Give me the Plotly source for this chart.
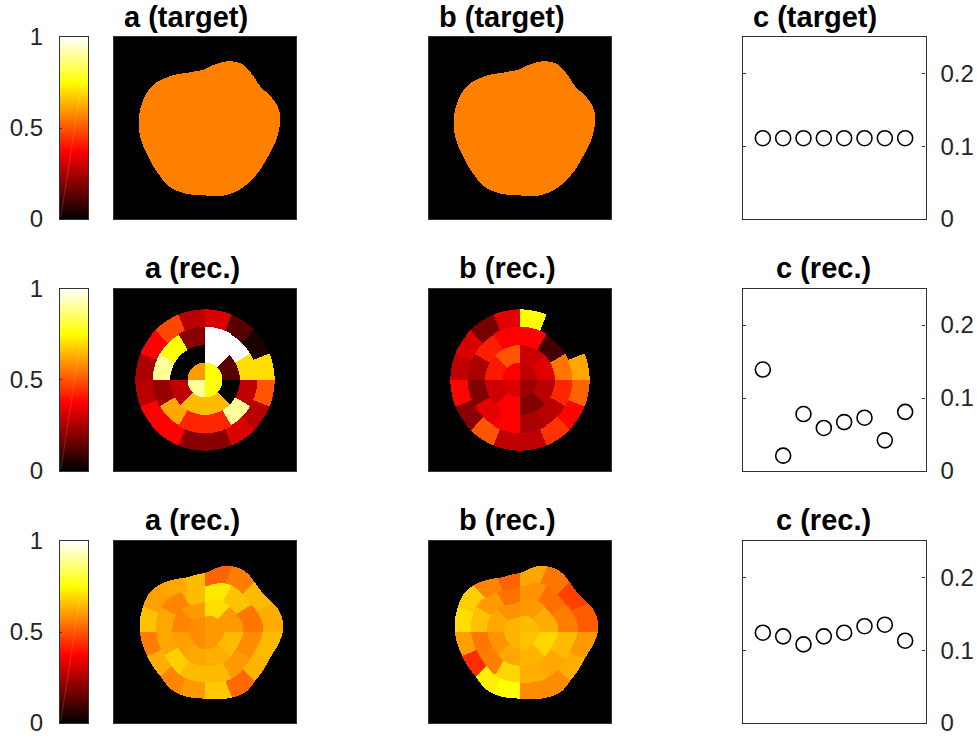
import numpy as np
import plotly.graph_objects as go

W, H = 977, 740
# ---- data ----
scatter_x = [1, 2, 3, 4, 5, 6, 7, 8]
c_target = [0.111, 0.111, 0.111, 0.111, 0.111, 0.111, 0.111, 0.111]
c_rec_circle = [0.139, 0.021, 0.078, 0.059, 0.067, 0.073, 0.042, 0.081]
c_rec_blob = [0.124, 0.119, 0.108, 0.119, 0.124, 0.133, 0.135, 0.113]
target_value = 0.5625

target_angles = [7, 17, 27, 37, 49, 59, 70, 80, 92, 108, 127, 141, 155, 172, 188, 204, 224, 238, 252, 269, 285, 299, 312, 334, 356]
target_radii = [230, 230, 218, 206, 215, 225, 216, 196, 173, 174, 191, 205, 205, 202, 197, 191, 196, 208, 207, 202, 212, 214, 210, 207, 221]
blob_angles = [6, 16, 23, 33, 45, 54, 64, 75, 88, 109, 127, 143, 159, 179, 198, 215, 226, 239, 253, 270, 291, 304, 316, 339, 359.5]
blob_radii = [238, 234, 223, 208, 211, 220, 218, 207, 178, 172, 191, 206, 202, 197, 189, 188, 189, 202, 203, 200, 213, 221, 210, 210, 235]

# rings inner -> outer, sectors clockwise from 12 o'clock
a_circle_r1 = [0.75, 0.75, 0.90, 0.60]
a_circle_r2 = [1.0, 0.13, 0.0, 0.65, 0.65, 0.28, 0.0, 0.0]
a_circle_r3 = [1.0, 1.0, 0.70, 0.28, 0.90, 0.43, 0.43, 0.62, 0.22, 0.90, 0.75, 0.20]
a_circle_r4 = [0.32, 0.13, 0.04, 0.70, 0.50, 0.27, 0.32, 0.20, 0.20, 0.375, 0.375, 0.27, 0.25, 0.375, 0.48, 0.27]

b_circle_r1 = [0.28, 0.23, 0.32, 0.375]
b_circle_r2 = [0.30, 0.33, 0.27, 0.19, 0.375, 0.30, 0.41, 0.50]
b_circle_r3 = [0.375, 0.10, 0.55, 0.43, 0.27, 0.25, 0.375, 0.34, 0.19, 0.25, 0.42, 0.375]
b_circle_r4 = [0.75, 0.0, 0.0, 0.62, 0.52, 0.38, 0.45, 0.28, 0.28, 0.50, 0.20, 0.38, 0.28, 0.32, 0.17, 0.33]

a_blob_r1 = [0.60, 0.60, 0.58, 0.58]
a_blob_r2 = [0.70, 0.60, 0.65, 0.63, 0.62, 0.61, 0.57, 0.60]
a_blob_r3 = [0.72, 0.66, 0.55, 0.58, 0.60, 0.65, 0.65, 0.68, 0.62, 0.62, 0.57, 0.65]
a_blob_r4 = [0.52, 0.56, 0.65, 0.63, 0.65, 0.64, 0.53, 0.67, 0.60, 0.57, 0.63, 0.56, 0.66, 0.61, 0.62, 0.65]

b_blob_r1 = [0.65, 0.66, 0.64, 0.64]
b_blob_r2 = [0.60, 0.63, 0.69, 0.64, 0.62, 0.59, 0.62, 0.59]
b_blob_r3 = [0.59, 0.54, 0.56, 0.65, 0.62, 0.63, 0.69, 0.56, 0.55, 0.66, 0.60, 0.54]
b_blob_r4 = [0.62, 0.55, 0.47, 0.51, 0.60, 0.63, 0.58, 0.58, 0.75, 0.73, 0.44, 0.61, 0.70, 0.68, 0.57, 0.52]

bar_ticks = [0, 0.5, 1]
bar_tick_labels = ["0", "0.5", "1"]
c_ticks = [0, 0.1, 0.2]
c_tick_labels = ["0", "0.1", "0.2"]
titles = [["a (target)", "b (target)", "c (target)"],
          ["a (rec.)", "b (rec.)", "c (rec.)"],
          ["a (rec.)", "b (rec.)", "c (rec.)"]]

# ---- layout in pixels ----
rows = [(37, 219), (288.5, 471), (541, 723)]
cols = [(114, 296), (429, 611), (742.5, 925.5)]
bar_x = (60, 88)
title_y = [16.8, 268, 520]
title_x = [[185.5, 502, 815], [192, 507, 823], [192, 507, 823]]
HOT = [[0, "#000000"], [0.375, "#ff0000"], [0.75, "#ffff00"], [1, "#ffffff"]]
AX = "#333333"
FONT = "Liberation Sans, Arial, sans-serif"
TICK_SIZE = 24
TITLE_SIZE = 29
N = 182
HALF = 1.3

g = np.linspace(-HALF, HALF, N)
gx, gy = np.meshgrid(g, g)
rad = np.hypot(gx, gy)
clock = np.mod(90 - np.degrees(np.arctan2(gy, gx)), 360)


def smooth_profile(angles, radii, sigma=3.5):
    grid = np.arange(720) / 2.0
    raw = np.interp(grid, angles, np.array(radii, float) / 210.0, period=360)
    d = np.minimum(grid, 360 - grid)
    kernel = np.exp(-0.5 * (d / sigma) ** 2)
    kernel /= kernel.sum()
    sm = np.real(np.fft.ifft(np.fft.fft(raw) * np.fft.fft(kernel)))
    theta = np.mod(90 - clock, 360)
    return np.interp(theta, grid, sm, period=360)


def rings_image(rings, bounds):
    """bounds: outer edge of each ring, as arrays over the grid"""
    z = np.zeros_like(rad)
    inner = np.zeros_like(rad)
    for vals, outer in zip(rings, bounds):
        mask = (rad >= inner) & (rad < outer)
        idx = np.floor(clock / (360 / len(vals))).astype(int) % len(vals)
        z[mask] = np.array(vals)[idx][mask]
        inner = outer
    return z


target_prof = smooth_profile(target_angles, target_radii)
blob_prof = smooth_profile(blob_angles, blob_radii)
blob_soft = smooth_profile(blob_angles, blob_radii, sigma=9.0)
circle_bounds = [np.full_like(rad, f) for f in (0.25, 0.5, 0.75, 1.0)]
blob_bounds = [0.25 * blob_soft, 0.5 * blob_soft, 0.75 * blob_soft, blob_prof]
images = [
    [np.where(rad <= target_prof, target_value, 0.0)] * 2,
    [rings_image([a_circle_r1, a_circle_r2, a_circle_r3, a_circle_r4], circle_bounds),
     rings_image([b_circle_r1, b_circle_r2, b_circle_r3, b_circle_r4], circle_bounds)],
    [rings_image([a_blob_r1, a_blob_r2, a_blob_r3, a_blob_r4], blob_bounds),
     rings_image([b_blob_r1, b_blob_r2, b_blob_r3, b_blob_r4], blob_bounds)],
]
scatter_rows = [c_target, c_rec_circle, c_rec_blob]


def dom_x(p):
    return [p[0] / W, p[1] / W]


def dom_y(p):
    return [1 - p[1] / H, 1 - p[0] / H]


fig = go.Figure()
layout = {}
n = 0


def new_axes(xp, yp, xopts, yopts):
    global n
    n += 1
    sfx = "" if n == 1 else str(n)
    layout["xaxis" + sfx] = dict(domain=dom_x(xp), anchor="y" + sfx, showgrid=False, zeroline=False,
                                 showline=True, mirror=True, linecolor=AX, linewidth=1.2, automargin=False,
                                 showticklabels=False, ticks="", **xopts)
    layout["yaxis" + sfx] = dict(domain=dom_y(yp), anchor="x" + sfx, showgrid=False, zeroline=False,
                                 showline=True, linecolor=AX, linewidth=1.2, automargin=False, **yopts)
    return "x" + sfx, "y" + sfx


tick_font = dict(family=FONT, size=TICK_SIZE, color="#262626")
grad = [[v] for v in np.linspace(0, 1, 256)]
anns = []
for r, yp in enumerate(rows):
    # colour bar
    xa, ya = new_axes(bar_x, yp, dict(range=[0, 1]),
                      dict(range=[0, 1], side="left", mirror=True, ticks="inside", ticklen=2, tickcolor=AX,
                           tickvals=bar_ticks, ticktext=bar_tick_labels, tickfont=tick_font,
                           ticklabelstandoff=11))
    fig.add_trace(go.Heatmap(z=grad, x=[0, 1], y=np.linspace(0, 1, 256), colorscale=HOT, zmin=0, zmax=1,
                             showscale=False, xaxis=xa, yaxis=ya, hoverinfo="skip"))
    fig.add_trace(go.Scatter(x=[0.03, 0.95], y=[0.01, 0.92], mode="lines", showlegend=False,
                             line=dict(color="rgba(255,255,255,0.2)", width=0.8), xaxis=xa, yaxis=ya,
                             hoverinfo="skip"))
    # images
    for c in range(2):
        xa, ya = new_axes(cols[c], yp, dict(range=[-HALF, HALF]),
                          dict(range=[-HALF, HALF], mirror=True, ticks="", showticklabels=False))
        fig.add_trace(go.Heatmap(z=images[r][c], x=g, y=g, colorscale=HOT, zmin=0, zmax=1, showscale=False,
                                 xaxis=xa, yaxis=ya, hoverinfo="skip", zsmooth=False))
    # scatter
    xa, ya = new_axes(cols[2], yp, dict(range=[0, 9]),
                      dict(range=[0, 0.25], side="right", mirror="ticks", ticks="inside", ticklen=3,
                           tickcolor=AX, tickvals=c_ticks, ticktext=c_tick_labels, tickfont=tick_font,
                           ticklabelstandoff=9))
    fig.add_trace(go.Scatter(x=scatter_x, y=scatter_rows[r], mode="markers", showlegend=False, xaxis=xa, yaxis=ya,
                             marker=dict(symbol="circle-open", size=15, color="black", line=dict(width=1.6, color="black"))))
    for c in range(3):
        anns.append(dict(text="<b>%s</b>" % titles[r][c], x=title_x[r][c] / W, y=1 - title_y[r] / H,
                         xref="paper", yref="paper", xanchor="center", yanchor="middle", showarrow=False,
                         font=dict(family=FONT, size=TITLE_SIZE, color="black")))

fig.update_layout(width=W, height=H, margin=dict(l=0, r=0, t=0, b=0), paper_bgcolor="white", plot_bgcolor="white",
                  showlegend=False, annotations=anns, template="none", **layout)
fig.write_html("out.html", config={"displayModeBar": False},
               post_script="document.body.style.margin='0';document.documentElement.style.overflow='hidden';")
